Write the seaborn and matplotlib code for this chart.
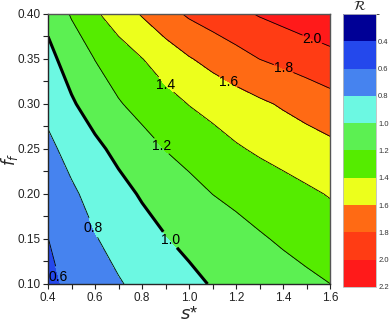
import numpy as np
import matplotlib
matplotlib.use("Agg")
import matplotlib.pyplot as plt
from matplotlib.colors import ListedColormap, BoundaryNorm
from matplotlib.ticker import MultipleLocator
import seaborn as sns

# grid
s_star = [0.4, 0.5, 0.6, 0.7, 0.8, 0.9, 1.0, 1.1, 1.2, 1.3, 1.4, 1.5, 1.6]
f_f = [0.10, 0.15, 0.20, 0.25, 0.30, 0.35, 0.40]

r_010 = [0.557, 0.639, 0.713, 0.786, 0.846, 0.903, 0.959, 1.011, 1.048, 1.086, 1.124, 1.162, 1.199]
r_015 = [0.598, 0.695, 0.790, 0.859, 0.926, 0.992, 1.041, 1.088, 1.135, 1.181, 1.224, 1.264, 1.304]
r_020 = [0.680, 0.772, 0.858, 0.941, 1.018, 1.079, 1.139, 1.201, 1.242, 1.285, 1.327, 1.369, 1.411]
r_025 = [0.760, 0.858, 0.959, 1.047, 1.127, 1.205, 1.263, 1.321, 1.380, 1.427, 1.468, 1.509, 1.550]
r_030 = [0.850, 0.979, 1.084, 1.185, 1.262, 1.335, 1.405, 1.459, 1.514, 1.568, 1.621, 1.674, 1.727]
r_035 = [0.950, 1.078, 1.204, 1.300, 1.395, 1.490, 1.586, 1.660, 1.730, 1.801, 1.846, 1.892, 1.938]
r_040 = [1.050, 1.217, 1.373, 1.498, 1.615, 1.731, 1.826, 1.890, 1.954, 2.014, 2.062, 2.111, 2.160]

levels = [0.2, 0.4, 0.6, 0.8, 1.0, 1.2, 1.4, 1.6, 1.8, 2.0, 2.2]
line_levels = [0.6, 0.8, 1.0, 1.2, 1.4, 1.6, 1.8, 2.0]
colors = ["#000096", "#2448ec", "#4683ef", "#6cf8e2", "#5cf052",
          "#55ec00", "#ecff1c", "#ff6a14", "#ff3c14", "#ff1a1a"]
cbar_ticks = [0.4, 0.6, 0.8, 1.0, 1.2, 1.4, 1.6, 1.8, 2.0, 2.2]

# where the contour labels sit
label_pos = [(0.454, 0.109), (0.596, 0.163), (0.919, 0.149), (0.886, 0.254),
             (0.894, 0.319), (1.165, 0.324), (1.405, 0.341), (1.523, 0.371)]

R = np.array([r_010, r_015, r_020, r_025, r_030, r_035, r_040])
X, Y = np.meshgrid(s_star, f_f)

sns.set_style("ticks")
plt.rcParams["font.family"] = ["Liberation Sans", "DejaVu Sans"]

fig = plt.figure(figsize=(3.9, 3.24), dpi=100)
ax = fig.add_axes([0.1231, 0.1235, 0.7231, 0.8333])
cax = fig.add_axes([0.8795, 0.1142, 0.0846, 0.8426])

cmap = ListedColormap(colors)
norm = BoundaryNorm(levels, cmap.N)
cf = ax.contourf(X, Y, R, levels=levels, cmap=cmap, norm=norm)
lw = [2.2 if lv == 1.0 else 0.6 for lv in line_levels]
cs = ax.contour(X, Y, R, levels=line_levels, colors="black", linewidths=lw)
labels = ax.clabel(cs, fmt="%.1f", fontsize=10, inline=True, inline_spacing=1,
                   manual=label_pos)
for t in labels:
    t.set_rotation(0)

ax.set_xlim(0.4, 1.6)
ax.set_ylim(0.10, 0.40)
ax.xaxis.set_major_locator(MultipleLocator(0.2))
ax.xaxis.set_minor_locator(MultipleLocator(0.1))
ax.yaxis.set_major_locator(MultipleLocator(0.05))
ax.yaxis.set_minor_locator(MultipleLocator(0.025))
ax.xaxis.set_major_formatter(plt.FormatStrFormatter("%.1f"))
ax.yaxis.set_major_formatter(plt.FormatStrFormatter("%.2f"))
ax.tick_params(which="both", direction="out", length=3.5, width=0.8,
               labelsize=8.5, colors="#222222", pad=2)
for side in ["top", "right"]:
    ax.spines[side].set_color("#555555")
for sp in ax.spines.values():
    sp.set_linewidth(1.0)

ax.set_xlabel("$s$*", fontsize=13, labelpad=2)
ax.set_ylabel("$f_f$", fontsize=12)
ax.yaxis.set_label_coords(-0.1, 0.46)

cb = fig.colorbar(cf, cax=cax)
cax.invert_yaxis()
cb.set_ticks(cbar_ticks)
cb.set_ticklabels([f"{v:.1f}" for v in cbar_ticks])
cax.tick_params(length=0, labelsize=5.5, pad=1.5, colors="#333333")
cb.outline.set_edgecolor("#bbbbbb")
cb.outline.set_linewidth(0.6)
cax.set_title(r"$\mathcal{R}$", fontsize=10, pad=3)

fig.savefig("out.png", dpi=100)
